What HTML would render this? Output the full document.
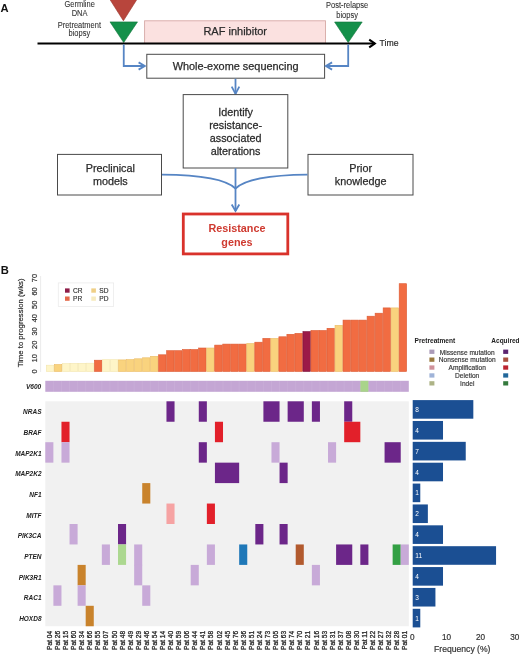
<!DOCTYPE html>
<html><head><meta charset="utf-8"><title>Figure</title>
<style>
html,body{margin:0;padding:0;background:#fff;}
body{width:520px;height:654px;overflow:hidden;}
svg{display:block;font-family:"Liberation Sans", sans-serif;will-change:transform;}
</style></head>
<body>
<svg width="520" height="654" viewBox="0 0 520 654">
<text x="0.60" y="11.90" font-size="11.2" text-anchor="start" font-weight="bold" font-style="normal" fill="#111" >A</text>
<polygon points="109.6,-1 137.2,-1 123.4,20.8" fill="#b8453c" stroke="#973229" stroke-width="0.6"/>
<polygon points="110,21.9 137.5,21.9 123.7,42.6" fill="#14904a" stroke="#0d7439" stroke-width="0.6"/>
<polygon points="334.6,22 362.2,22 348.2,42.6" fill="#14904a" stroke="#0d7439" stroke-width="0.6"/>
<rect x="144.6" y="20.8" width="180.9" height="22.6" fill="#fbe1e0" stroke="#d7a9a6" stroke-width="0.9"/>
<text x="235.20" y="35.00" font-size="11" text-anchor="middle" font-weight="normal" font-style="normal" fill="#2b2b2b" stroke="#2b2b2b" stroke-width="0.25" >RAF inhibitor</text>
<line x1="37.5" y1="43.5" x2="375" y2="43.5" stroke="#000" stroke-width="2"/>
<polyline points="369.2,39.6 374.8,43.5 369.2,47.4" fill="none" stroke="#000" stroke-width="2.1"/>
<text transform="translate(379.60,45.90) scale(1,1.05)" font-size="8.7" text-anchor="start" font-weight="normal" font-style="normal" fill="#2b2b2b" stroke="#2b2b2b" stroke-width="0.2" >Time</text>
<text transform="translate(79.60,6.60) scale(1,1.15)" font-size="7.5" text-anchor="middle" font-weight="normal" font-style="normal" fill="#333" stroke="#333" stroke-width="0.08" >Germline</text>
<text transform="translate(79.60,15.80) scale(1,1.15)" font-size="7.5" text-anchor="middle" font-weight="normal" font-style="normal" fill="#333" stroke="#333" stroke-width="0.08" >DNA</text>
<text transform="translate(79.30,27.70) scale(1,1.15)" font-size="7.5" text-anchor="middle" font-weight="normal" font-style="normal" fill="#333" stroke="#333" stroke-width="0.08" >Pretreatment</text>
<text transform="translate(79.30,36.00) scale(1,1.15)" font-size="7.5" text-anchor="middle" font-weight="normal" font-style="normal" fill="#333" stroke="#333" stroke-width="0.08" >biopsy</text>
<text transform="translate(347.10,7.80) scale(1,1.15)" font-size="7.5" text-anchor="middle" font-weight="normal" font-style="normal" fill="#333" stroke="#333" stroke-width="0.08" >Post-relapse</text>
<text transform="translate(347.10,17.90) scale(1,1.15)" font-size="7.5" text-anchor="middle" font-weight="normal" font-style="normal" fill="#333" stroke="#333" stroke-width="0.08" >biopsy</text>
<rect x="146.8" y="54.3" width="177.8" height="23.9" fill="#fff" stroke="#4a4a4a" stroke-width="1"/>
<text x="235.60" y="69.60" font-size="10.9" text-anchor="middle" font-weight="normal" font-style="normal" fill="#2b2b2b" stroke="#2b2b2b" stroke-width="0.25" >Whole-exome sequencing</text>
<polyline points="123.75,44.5 123.75,66 144.5,66" fill="none" stroke="#5685c4" stroke-width="1.8"/>
<polyline points="138.6,62.4 144.8,66 138.6,69.6" fill="none" stroke="#5685c4" stroke-width="1.8"/>
<polyline points="348.2,44.5 348.2,66 326,66" fill="none" stroke="#5685c4" stroke-width="1.8"/>
<polyline points="332.1,62.4 325.9,66 332.1,69.6" fill="none" stroke="#5685c4" stroke-width="1.8"/>
<line x1="235.5" y1="78.7" x2="235.5" y2="93.8" stroke="#5685c4" stroke-width="1.8"/>
<polyline points="231.7,86.6 235.5,93.8 239.3,86.6" fill="none" stroke="#5685c4" stroke-width="1.8"/>
<rect x="183.2" y="94.6" width="104.6" height="73.4" fill="#fff" stroke="#4a4a4a" stroke-width="1"/>
<text transform="translate(235.60,115.70) scale(1,1.05)" font-size="10.8" text-anchor="middle" font-weight="normal" font-style="normal" fill="#2b2b2b" stroke="#2b2b2b" stroke-width="0.25" >Identify</text>
<text transform="translate(235.60,128.70) scale(1,1.05)" font-size="10.8" text-anchor="middle" font-weight="normal" font-style="normal" fill="#2b2b2b" stroke="#2b2b2b" stroke-width="0.25" >resistance-</text>
<text transform="translate(235.60,141.70) scale(1,1.05)" font-size="10.8" text-anchor="middle" font-weight="normal" font-style="normal" fill="#2b2b2b" stroke="#2b2b2b" stroke-width="0.25" >associated</text>
<text transform="translate(235.60,154.70) scale(1,1.05)" font-size="10.8" text-anchor="middle" font-weight="normal" font-style="normal" fill="#2b2b2b" stroke="#2b2b2b" stroke-width="0.25" >alterations</text>
<rect x="57.5" y="154.4" width="104" height="40.6" fill="#fff" stroke="#4a4a4a" stroke-width="1"/>
<text x="110.30" y="172.30" font-size="10.8" text-anchor="middle" font-weight="normal" font-style="normal" fill="#2b2b2b" stroke="#2b2b2b" stroke-width="0.25" >Preclinical</text>
<text x="110.30" y="184.90" font-size="10.8" text-anchor="middle" font-weight="normal" font-style="normal" fill="#2b2b2b" stroke="#2b2b2b" stroke-width="0.25" >models</text>
<rect x="308" y="154.4" width="105" height="40.6" fill="#fff" stroke="#4a4a4a" stroke-width="1"/>
<text x="360.60" y="172.30" font-size="10.8" text-anchor="middle" font-weight="normal" font-style="normal" fill="#2b2b2b" stroke="#2b2b2b" stroke-width="0.25" >Prior</text>
<text x="360.60" y="184.90" font-size="10.8" text-anchor="middle" font-weight="normal" font-style="normal" fill="#2b2b2b" stroke="#2b2b2b" stroke-width="0.25" >knowledge</text>
<line x1="235.5" y1="168.2" x2="235.5" y2="211" stroke="#5685c4" stroke-width="1.8"/>
<path d="M162,174.6 C200,175 226,179 235.5,188.5" fill="none" stroke="#5685c4" stroke-width="1.8"/>
<path d="M307.5,174.6 C271,175 245,179 235.5,188.5" fill="none" stroke="#5685c4" stroke-width="1.8"/>
<polyline points="231.7,204.5 235.5,211 239.3,204.5" fill="none" stroke="#5685c4" stroke-width="1.8"/>
<rect x="183.3" y="214" width="104.5" height="39.9" fill="#fff" stroke="#d9322b" stroke-width="2.8"/>
<text x="236.90" y="231.90" font-size="10.8" text-anchor="middle" font-weight="bold" font-style="normal" fill="#cf3a30" >Resistance</text>
<text x="236.90" y="245.80" font-size="10.8" text-anchor="middle" font-weight="bold" font-style="normal" fill="#cf3a30" >genes</text>
<text x="0.80" y="273.80" font-size="11.2" text-anchor="start" font-weight="bold" font-style="normal" fill="#111" >B</text>
<line x1="40.6" y1="276" x2="40.6" y2="372" stroke="#e6e6e6" stroke-width="0.8"/>
<text transform="translate(22.6,322.9) rotate(-90)" font-size="7.75" text-anchor="middle" fill="#2b2b2b" stroke="#2b2b2b" stroke-width="0.2">Time to progression (wks)</text>
<text transform="translate(37.2,371.50) rotate(-90)" font-size="7.4" text-anchor="middle" fill="#333" stroke="#333" stroke-width="0.2">0</text>
<text transform="translate(37.2,358.16) rotate(-90)" font-size="7.4" text-anchor="middle" fill="#333" stroke="#333" stroke-width="0.2">10</text>
<text transform="translate(37.2,344.82) rotate(-90)" font-size="7.4" text-anchor="middle" fill="#333" stroke="#333" stroke-width="0.2">20</text>
<text transform="translate(37.2,331.48) rotate(-90)" font-size="7.4" text-anchor="middle" fill="#333" stroke="#333" stroke-width="0.2">30</text>
<text transform="translate(37.2,318.14) rotate(-90)" font-size="7.4" text-anchor="middle" fill="#333" stroke="#333" stroke-width="0.2">40</text>
<text transform="translate(37.2,304.80) rotate(-90)" font-size="7.4" text-anchor="middle" fill="#333" stroke="#333" stroke-width="0.2">50</text>
<text transform="translate(37.2,291.46) rotate(-90)" font-size="7.4" text-anchor="middle" fill="#333" stroke="#333" stroke-width="0.2">60</text>
<text transform="translate(37.2,278.12) rotate(-90)" font-size="7.4" text-anchor="middle" fill="#333" stroke="#333" stroke-width="0.2">70</text>
<rect x="46.30" y="365.20" width="7.42" height="6.30" fill="#fef5c8" stroke="#f3e6b0" stroke-width="0.6"/>
<rect x="54.32" y="364.50" width="7.42" height="7.00" fill="#f9d37e" stroke="#ecbd66" stroke-width="0.6"/>
<rect x="62.34" y="363.60" width="7.42" height="7.90" fill="#fef5c8" stroke="#f3e6b0" stroke-width="0.6"/>
<rect x="70.36" y="363.40" width="7.42" height="8.10" fill="#fef5c8" stroke="#f3e6b0" stroke-width="0.6"/>
<rect x="78.38" y="363.30" width="7.42" height="8.20" fill="#fef5c8" stroke="#f3e6b0" stroke-width="0.6"/>
<rect x="86.40" y="363.20" width="7.42" height="8.30" fill="#fef5c8" stroke="#f3e6b0" stroke-width="0.6"/>
<rect x="94.42" y="360.20" width="7.42" height="11.30" fill="#f16c42" stroke="#dc5a32" stroke-width="0.6"/>
<rect x="102.44" y="359.70" width="7.42" height="11.80" fill="#fef5c8" stroke="#f3e6b0" stroke-width="0.6"/>
<rect x="110.46" y="359.70" width="7.42" height="11.80" fill="#fef5c8" stroke="#f3e6b0" stroke-width="0.6"/>
<rect x="118.48" y="359.90" width="7.42" height="11.60" fill="#f9d37e" stroke="#ecbd66" stroke-width="0.6"/>
<rect x="126.50" y="359.60" width="7.42" height="11.90" fill="#f9d37e" stroke="#ecbd66" stroke-width="0.6"/>
<rect x="134.52" y="358.80" width="7.42" height="12.70" fill="#f9d37e" stroke="#ecbd66" stroke-width="0.6"/>
<rect x="142.54" y="357.80" width="7.42" height="13.70" fill="#f9d37e" stroke="#ecbd66" stroke-width="0.6"/>
<rect x="150.56" y="356.30" width="7.42" height="15.20" fill="#f9d37e" stroke="#ecbd66" stroke-width="0.6"/>
<rect x="158.58" y="354.80" width="7.42" height="16.70" fill="#f16c42" stroke="#dc5a32" stroke-width="0.6"/>
<rect x="166.60" y="350.70" width="7.42" height="20.80" fill="#f16c42" stroke="#dc5a32" stroke-width="0.6"/>
<rect x="174.62" y="350.70" width="7.42" height="20.80" fill="#f16c42" stroke="#dc5a32" stroke-width="0.6"/>
<rect x="182.64" y="349.50" width="7.42" height="22.00" fill="#f16c42" stroke="#dc5a32" stroke-width="0.6"/>
<rect x="190.66" y="349.50" width="7.42" height="22.00" fill="#f16c42" stroke="#dc5a32" stroke-width="0.6"/>
<rect x="198.68" y="348.00" width="7.42" height="23.50" fill="#f16c42" stroke="#dc5a32" stroke-width="0.6"/>
<rect x="206.70" y="348.00" width="7.42" height="23.50" fill="#f9d37e" stroke="#ecbd66" stroke-width="0.6"/>
<rect x="214.72" y="345.10" width="7.42" height="26.40" fill="#f16c42" stroke="#dc5a32" stroke-width="0.6"/>
<rect x="222.74" y="344.10" width="7.42" height="27.40" fill="#f16c42" stroke="#dc5a32" stroke-width="0.6"/>
<rect x="230.76" y="344.10" width="7.42" height="27.40" fill="#f16c42" stroke="#dc5a32" stroke-width="0.6"/>
<rect x="238.78" y="344.10" width="7.42" height="27.40" fill="#f16c42" stroke="#dc5a32" stroke-width="0.6"/>
<rect x="246.80" y="343.50" width="7.42" height="28.00" fill="#f9d37e" stroke="#ecbd66" stroke-width="0.6"/>
<rect x="254.82" y="342.20" width="7.42" height="29.30" fill="#f16c42" stroke="#dc5a32" stroke-width="0.6"/>
<rect x="262.84" y="338.40" width="7.42" height="33.10" fill="#f16c42" stroke="#dc5a32" stroke-width="0.6"/>
<rect x="270.86" y="338.40" width="7.42" height="33.10" fill="#f9d37e" stroke="#ecbd66" stroke-width="0.6"/>
<rect x="278.88" y="336.80" width="7.42" height="34.70" fill="#f16c42" stroke="#dc5a32" stroke-width="0.6"/>
<rect x="286.90" y="334.30" width="7.42" height="37.20" fill="#f16c42" stroke="#dc5a32" stroke-width="0.6"/>
<rect x="294.92" y="333.40" width="7.42" height="38.10" fill="#f16c42" stroke="#dc5a32" stroke-width="0.6"/>
<rect x="302.94" y="331.60" width="7.42" height="39.90" fill="#9b1a48" stroke="#7a1238" stroke-width="0.6"/>
<rect x="310.96" y="330.50" width="7.42" height="41.00" fill="#f16c42" stroke="#dc5a32" stroke-width="0.6"/>
<rect x="318.98" y="330.50" width="7.42" height="41.00" fill="#f16c42" stroke="#dc5a32" stroke-width="0.6"/>
<rect x="327.00" y="328.30" width="7.42" height="43.20" fill="#f16c42" stroke="#dc5a32" stroke-width="0.6"/>
<rect x="335.02" y="325.30" width="7.42" height="46.20" fill="#f9d37e" stroke="#ecbd66" stroke-width="0.6"/>
<rect x="343.04" y="320.10" width="7.42" height="51.40" fill="#f16c42" stroke="#dc5a32" stroke-width="0.6"/>
<rect x="351.06" y="320.10" width="7.42" height="51.40" fill="#f16c42" stroke="#dc5a32" stroke-width="0.6"/>
<rect x="359.08" y="320.10" width="7.42" height="51.40" fill="#f16c42" stroke="#dc5a32" stroke-width="0.6"/>
<rect x="367.10" y="316.20" width="7.42" height="55.30" fill="#f16c42" stroke="#dc5a32" stroke-width="0.6"/>
<rect x="375.12" y="313.20" width="7.42" height="58.30" fill="#f16c42" stroke="#dc5a32" stroke-width="0.6"/>
<rect x="383.14" y="307.90" width="7.42" height="63.60" fill="#f16c42" stroke="#dc5a32" stroke-width="0.6"/>
<rect x="391.16" y="307.90" width="7.42" height="63.60" fill="#f9d37e" stroke="#ecbd66" stroke-width="0.6"/>
<rect x="399.18" y="283.70" width="7.42" height="87.80" fill="#f16c42" stroke="#dc5a32" stroke-width="0.6"/>
<rect x="58.3" y="282.9" width="55.3" height="23.5" fill="#fff" stroke="#ebebeb" stroke-width="0.8"/>
<rect x="65" y="288.4" width="4.6" height="4.3" fill="#8e1d48"/>
<text x="73.00" y="293.00" font-size="6.6" text-anchor="start" font-weight="normal" font-style="normal" fill="#333" stroke="#333" stroke-width="0.15" >CR</text>
<rect x="65" y="296.5" width="4.6" height="4.3" fill="#e4694a"/>
<text x="73.00" y="301.10" font-size="6.6" text-anchor="start" font-weight="normal" font-style="normal" fill="#333" stroke="#333" stroke-width="0.15" >PR</text>
<rect x="91.3" y="288.4" width="4.6" height="4.3" fill="#efcf86"/>
<text x="99.30" y="293.00" font-size="6.6" text-anchor="start" font-weight="normal" font-style="normal" fill="#333" stroke="#333" stroke-width="0.15" >SD</text>
<rect x="91.3" y="296.5" width="4.6" height="4.3" fill="#f7ebc0"/>
<text x="99.30" y="301.10" font-size="6.6" text-anchor="start" font-weight="normal" font-style="normal" fill="#333" stroke="#333" stroke-width="0.15" >PD</text>
<rect x="45.3" y="380.8" width="363.50" height="11" fill="#c4a6d4"/>
<rect x="360.33" y="380.8" width="8.08" height="11" fill="#a9d48a"/>
<line x1="53.38" y1="380.8" x2="53.38" y2="391.8" stroke="#ffffff" stroke-opacity="0.15" stroke-width="0.5"/>
<line x1="61.46" y1="380.8" x2="61.46" y2="391.8" stroke="#ffffff" stroke-opacity="0.15" stroke-width="0.5"/>
<line x1="69.53" y1="380.8" x2="69.53" y2="391.8" stroke="#ffffff" stroke-opacity="0.15" stroke-width="0.5"/>
<line x1="77.61" y1="380.8" x2="77.61" y2="391.8" stroke="#ffffff" stroke-opacity="0.15" stroke-width="0.5"/>
<line x1="85.69" y1="380.8" x2="85.69" y2="391.8" stroke="#ffffff" stroke-opacity="0.15" stroke-width="0.5"/>
<line x1="93.77" y1="380.8" x2="93.77" y2="391.8" stroke="#ffffff" stroke-opacity="0.15" stroke-width="0.5"/>
<line x1="101.84" y1="380.8" x2="101.84" y2="391.8" stroke="#ffffff" stroke-opacity="0.15" stroke-width="0.5"/>
<line x1="109.92" y1="380.8" x2="109.92" y2="391.8" stroke="#ffffff" stroke-opacity="0.15" stroke-width="0.5"/>
<line x1="118.00" y1="380.8" x2="118.00" y2="391.8" stroke="#ffffff" stroke-opacity="0.15" stroke-width="0.5"/>
<line x1="126.08" y1="380.8" x2="126.08" y2="391.8" stroke="#ffffff" stroke-opacity="0.15" stroke-width="0.5"/>
<line x1="134.16" y1="380.8" x2="134.16" y2="391.8" stroke="#ffffff" stroke-opacity="0.15" stroke-width="0.5"/>
<line x1="142.23" y1="380.8" x2="142.23" y2="391.8" stroke="#ffffff" stroke-opacity="0.15" stroke-width="0.5"/>
<line x1="150.31" y1="380.8" x2="150.31" y2="391.8" stroke="#ffffff" stroke-opacity="0.15" stroke-width="0.5"/>
<line x1="158.39" y1="380.8" x2="158.39" y2="391.8" stroke="#ffffff" stroke-opacity="0.15" stroke-width="0.5"/>
<line x1="166.47" y1="380.8" x2="166.47" y2="391.8" stroke="#ffffff" stroke-opacity="0.15" stroke-width="0.5"/>
<line x1="174.54" y1="380.8" x2="174.54" y2="391.8" stroke="#ffffff" stroke-opacity="0.15" stroke-width="0.5"/>
<line x1="182.62" y1="380.8" x2="182.62" y2="391.8" stroke="#ffffff" stroke-opacity="0.15" stroke-width="0.5"/>
<line x1="190.70" y1="380.8" x2="190.70" y2="391.8" stroke="#ffffff" stroke-opacity="0.15" stroke-width="0.5"/>
<line x1="198.78" y1="380.8" x2="198.78" y2="391.8" stroke="#ffffff" stroke-opacity="0.15" stroke-width="0.5"/>
<line x1="206.86" y1="380.8" x2="206.86" y2="391.8" stroke="#ffffff" stroke-opacity="0.15" stroke-width="0.5"/>
<line x1="214.93" y1="380.8" x2="214.93" y2="391.8" stroke="#ffffff" stroke-opacity="0.15" stroke-width="0.5"/>
<line x1="223.01" y1="380.8" x2="223.01" y2="391.8" stroke="#ffffff" stroke-opacity="0.15" stroke-width="0.5"/>
<line x1="231.09" y1="380.8" x2="231.09" y2="391.8" stroke="#ffffff" stroke-opacity="0.15" stroke-width="0.5"/>
<line x1="239.17" y1="380.8" x2="239.17" y2="391.8" stroke="#ffffff" stroke-opacity="0.15" stroke-width="0.5"/>
<line x1="247.24" y1="380.8" x2="247.24" y2="391.8" stroke="#ffffff" stroke-opacity="0.15" stroke-width="0.5"/>
<line x1="255.32" y1="380.8" x2="255.32" y2="391.8" stroke="#ffffff" stroke-opacity="0.15" stroke-width="0.5"/>
<line x1="263.40" y1="380.8" x2="263.40" y2="391.8" stroke="#ffffff" stroke-opacity="0.15" stroke-width="0.5"/>
<line x1="271.48" y1="380.8" x2="271.48" y2="391.8" stroke="#ffffff" stroke-opacity="0.15" stroke-width="0.5"/>
<line x1="279.56" y1="380.8" x2="279.56" y2="391.8" stroke="#ffffff" stroke-opacity="0.15" stroke-width="0.5"/>
<line x1="287.63" y1="380.8" x2="287.63" y2="391.8" stroke="#ffffff" stroke-opacity="0.15" stroke-width="0.5"/>
<line x1="295.71" y1="380.8" x2="295.71" y2="391.8" stroke="#ffffff" stroke-opacity="0.15" stroke-width="0.5"/>
<line x1="303.79" y1="380.8" x2="303.79" y2="391.8" stroke="#ffffff" stroke-opacity="0.15" stroke-width="0.5"/>
<line x1="311.87" y1="380.8" x2="311.87" y2="391.8" stroke="#ffffff" stroke-opacity="0.15" stroke-width="0.5"/>
<line x1="319.94" y1="380.8" x2="319.94" y2="391.8" stroke="#ffffff" stroke-opacity="0.15" stroke-width="0.5"/>
<line x1="328.02" y1="380.8" x2="328.02" y2="391.8" stroke="#ffffff" stroke-opacity="0.15" stroke-width="0.5"/>
<line x1="336.10" y1="380.8" x2="336.10" y2="391.8" stroke="#ffffff" stroke-opacity="0.15" stroke-width="0.5"/>
<line x1="344.18" y1="380.8" x2="344.18" y2="391.8" stroke="#ffffff" stroke-opacity="0.15" stroke-width="0.5"/>
<line x1="352.26" y1="380.8" x2="352.26" y2="391.8" stroke="#ffffff" stroke-opacity="0.15" stroke-width="0.5"/>
<line x1="360.33" y1="380.8" x2="360.33" y2="391.8" stroke="#ffffff" stroke-opacity="0.15" stroke-width="0.5"/>
<line x1="368.41" y1="380.8" x2="368.41" y2="391.8" stroke="#ffffff" stroke-opacity="0.15" stroke-width="0.5"/>
<line x1="376.49" y1="380.8" x2="376.49" y2="391.8" stroke="#ffffff" stroke-opacity="0.15" stroke-width="0.5"/>
<line x1="384.57" y1="380.8" x2="384.57" y2="391.8" stroke="#ffffff" stroke-opacity="0.15" stroke-width="0.5"/>
<line x1="392.64" y1="380.8" x2="392.64" y2="391.8" stroke="#ffffff" stroke-opacity="0.15" stroke-width="0.5"/>
<line x1="400.72" y1="380.8" x2="400.72" y2="391.8" stroke="#ffffff" stroke-opacity="0.15" stroke-width="0.5"/>
<text transform="translate(41.30,389.20) scale(1,1.12)" font-size="6.6" text-anchor="end" font-weight="bold" font-style="italic" fill="#222" >V600</text>
<rect x="45.3" y="401.3" width="363.50" height="224.95" fill="#f1f1f1"/>
<rect x="166.47" y="401.30" width="8.08" height="20.45" fill="#6c2689"/>
<rect x="198.78" y="401.30" width="8.08" height="20.45" fill="#6c2689"/>
<rect x="263.40" y="401.30" width="16.16" height="20.45" fill="#6c2689"/>
<rect x="287.63" y="401.30" width="16.16" height="20.45" fill="#6c2689"/>
<rect x="311.87" y="401.30" width="8.08" height="20.45" fill="#6c2689"/>
<rect x="344.18" y="401.30" width="8.08" height="20.45" fill="#6c2689"/>
<rect x="61.46" y="421.75" width="8.08" height="20.45" fill="#e2202a"/>
<rect x="214.93" y="421.75" width="8.08" height="20.45" fill="#e2202a"/>
<rect x="344.18" y="421.75" width="16.16" height="20.45" fill="#e2202a"/>
<rect x="45.30" y="442.20" width="8.08" height="20.45" fill="#c8aad8"/>
<rect x="61.46" y="442.20" width="8.08" height="20.45" fill="#c8aad8"/>
<rect x="198.78" y="442.20" width="8.08" height="20.45" fill="#6c2689"/>
<rect x="271.48" y="442.20" width="8.08" height="20.45" fill="#c8aad8"/>
<rect x="328.02" y="442.20" width="8.08" height="20.45" fill="#c8aad8"/>
<rect x="384.57" y="442.20" width="16.16" height="20.45" fill="#6c2689"/>
<rect x="214.93" y="462.65" width="24.23" height="20.45" fill="#6c2689"/>
<rect x="279.56" y="462.65" width="8.08" height="20.45" fill="#6c2689"/>
<rect x="142.23" y="483.10" width="8.08" height="20.45" fill="#c9832c"/>
<rect x="166.47" y="503.55" width="8.08" height="20.45" fill="#f6a3a3"/>
<rect x="206.86" y="503.55" width="8.08" height="20.45" fill="#e2202a"/>
<rect x="69.53" y="524.00" width="8.08" height="20.45" fill="#c8aad8"/>
<rect x="118.00" y="524.00" width="8.08" height="20.45" fill="#6c2689"/>
<rect x="255.32" y="524.00" width="8.08" height="20.45" fill="#6c2689"/>
<rect x="279.56" y="524.00" width="8.08" height="20.45" fill="#6c2689"/>
<rect x="101.84" y="544.45" width="8.08" height="20.45" fill="#c8aad8"/>
<rect x="118.00" y="544.45" width="8.08" height="20.45" fill="#acd890"/>
<rect x="134.16" y="544.45" width="8.08" height="20.85" fill="#c8aad8"/>
<rect x="206.86" y="544.45" width="8.08" height="20.45" fill="#c8aad8"/>
<rect x="239.17" y="544.45" width="8.08" height="20.45" fill="#1f78b8"/>
<rect x="295.71" y="544.45" width="8.08" height="20.45" fill="#b25a2e"/>
<rect x="336.10" y="544.45" width="16.16" height="20.45" fill="#6c2689"/>
<rect x="360.33" y="544.45" width="8.08" height="20.45" fill="#6c2689"/>
<rect x="392.64" y="544.45" width="8.08" height="20.45" fill="#33a044"/>
<rect x="400.72" y="544.45" width="8.08" height="20.45" fill="#c8aad8"/>
<rect x="77.61" y="564.90" width="8.08" height="20.45" fill="#c9832c"/>
<rect x="134.16" y="564.90" width="8.08" height="20.45" fill="#c8aad8"/>
<rect x="190.70" y="564.90" width="8.08" height="20.45" fill="#c8aad8"/>
<rect x="311.87" y="564.90" width="8.08" height="20.45" fill="#c8aad8"/>
<rect x="53.38" y="585.35" width="8.08" height="20.45" fill="#c8aad8"/>
<rect x="77.61" y="585.35" width="8.08" height="20.45" fill="#c8aad8"/>
<rect x="142.23" y="585.35" width="8.08" height="20.45" fill="#c8aad8"/>
<rect x="85.69" y="605.80" width="8.08" height="20.45" fill="#c9832c"/>
<text transform="translate(41.50,414.40) scale(1,1.12)" font-size="6.5" text-anchor="end" font-weight="bold" font-style="italic" fill="#222" >NRAS</text>
<text transform="translate(41.50,435.06) scale(1,1.12)" font-size="6.5" text-anchor="end" font-weight="bold" font-style="italic" fill="#222" >BRAF</text>
<text transform="translate(41.50,455.72) scale(1,1.12)" font-size="6.5" text-anchor="end" font-weight="bold" font-style="italic" fill="#222" >MAP2K1</text>
<text transform="translate(41.50,476.38) scale(1,1.12)" font-size="6.5" text-anchor="end" font-weight="bold" font-style="italic" fill="#222" >MAP2K2</text>
<text transform="translate(41.50,497.04) scale(1,1.12)" font-size="6.5" text-anchor="end" font-weight="bold" font-style="italic" fill="#222" >NF1</text>
<text transform="translate(41.50,517.70) scale(1,1.12)" font-size="6.5" text-anchor="end" font-weight="bold" font-style="italic" fill="#222" >MITF</text>
<text transform="translate(41.50,538.36) scale(1,1.12)" font-size="6.5" text-anchor="end" font-weight="bold" font-style="italic" fill="#222" >PIK3CA</text>
<text transform="translate(41.50,559.02) scale(1,1.12)" font-size="6.5" text-anchor="end" font-weight="bold" font-style="italic" fill="#222" >PTEN</text>
<text transform="translate(41.50,579.68) scale(1,1.12)" font-size="6.5" text-anchor="end" font-weight="bold" font-style="italic" fill="#222" >PIK3R1</text>
<text transform="translate(41.50,600.34) scale(1,1.12)" font-size="6.5" text-anchor="end" font-weight="bold" font-style="italic" fill="#222" >RAC1</text>
<text transform="translate(41.50,621.00) scale(1,1.12)" font-size="6.5" text-anchor="end" font-weight="bold" font-style="italic" fill="#222" >HOXD8</text>
<text transform="translate(51.94,630.8) rotate(-90)" font-size="6.6" text-anchor="end" fill="#2a2a2a" stroke="#2a2a2a" stroke-width="0.3">Pat 04</text>
<text transform="translate(60.02,630.8) rotate(-90)" font-size="6.6" text-anchor="end" fill="#2a2a2a" stroke="#2a2a2a" stroke-width="0.3">Pat 26</text>
<text transform="translate(68.09,630.8) rotate(-90)" font-size="6.6" text-anchor="end" fill="#2a2a2a" stroke="#2a2a2a" stroke-width="0.3">Pat 15</text>
<text transform="translate(76.17,630.8) rotate(-90)" font-size="6.6" text-anchor="end" fill="#2a2a2a" stroke="#2a2a2a" stroke-width="0.3">Pat 60</text>
<text transform="translate(84.25,630.8) rotate(-90)" font-size="6.6" text-anchor="end" fill="#2a2a2a" stroke="#2a2a2a" stroke-width="0.3">Pat 34</text>
<text transform="translate(92.33,630.8) rotate(-90)" font-size="6.6" text-anchor="end" fill="#2a2a2a" stroke="#2a2a2a" stroke-width="0.3">Pat 66</text>
<text transform="translate(100.41,630.8) rotate(-90)" font-size="6.6" text-anchor="end" fill="#2a2a2a" stroke="#2a2a2a" stroke-width="0.3">Pat 55</text>
<text transform="translate(108.48,630.8) rotate(-90)" font-size="6.6" text-anchor="end" fill="#2a2a2a" stroke="#2a2a2a" stroke-width="0.3">Pat 07</text>
<text transform="translate(116.56,630.8) rotate(-90)" font-size="6.6" text-anchor="end" fill="#2a2a2a" stroke="#2a2a2a" stroke-width="0.3">Pat 50</text>
<text transform="translate(124.64,630.8) rotate(-90)" font-size="6.6" text-anchor="end" fill="#2a2a2a" stroke="#2a2a2a" stroke-width="0.3">Pat 48</text>
<text transform="translate(132.72,630.8) rotate(-90)" font-size="6.6" text-anchor="end" fill="#2a2a2a" stroke="#2a2a2a" stroke-width="0.3">Pat 49</text>
<text transform="translate(140.79,630.8) rotate(-90)" font-size="6.6" text-anchor="end" fill="#2a2a2a" stroke="#2a2a2a" stroke-width="0.3">Pat 29</text>
<text transform="translate(148.87,630.8) rotate(-90)" font-size="6.6" text-anchor="end" fill="#2a2a2a" stroke="#2a2a2a" stroke-width="0.3">Pat 46</text>
<text transform="translate(156.95,630.8) rotate(-90)" font-size="6.6" text-anchor="end" fill="#2a2a2a" stroke="#2a2a2a" stroke-width="0.3">Pat 54</text>
<text transform="translate(165.03,630.8) rotate(-90)" font-size="6.6" text-anchor="end" fill="#2a2a2a" stroke="#2a2a2a" stroke-width="0.3">Pat 14</text>
<text transform="translate(173.11,630.8) rotate(-90)" font-size="6.6" text-anchor="end" fill="#2a2a2a" stroke="#2a2a2a" stroke-width="0.3">Pat 40</text>
<text transform="translate(181.18,630.8) rotate(-90)" font-size="6.6" text-anchor="end" fill="#2a2a2a" stroke="#2a2a2a" stroke-width="0.3">Pat 59</text>
<text transform="translate(189.26,630.8) rotate(-90)" font-size="6.6" text-anchor="end" fill="#2a2a2a" stroke="#2a2a2a" stroke-width="0.3">Pat 06</text>
<text transform="translate(197.34,630.8) rotate(-90)" font-size="6.6" text-anchor="end" fill="#2a2a2a" stroke="#2a2a2a" stroke-width="0.3">Pat 44</text>
<text transform="translate(205.42,630.8) rotate(-90)" font-size="6.6" text-anchor="end" fill="#2a2a2a" stroke="#2a2a2a" stroke-width="0.3">Pat 41</text>
<text transform="translate(213.49,630.8) rotate(-90)" font-size="6.6" text-anchor="end" fill="#2a2a2a" stroke="#2a2a2a" stroke-width="0.3">Pat 58</text>
<text transform="translate(221.57,630.8) rotate(-90)" font-size="6.6" text-anchor="end" fill="#2a2a2a" stroke="#2a2a2a" stroke-width="0.3">Pat 02</text>
<text transform="translate(229.65,630.8) rotate(-90)" font-size="6.6" text-anchor="end" fill="#2a2a2a" stroke="#2a2a2a" stroke-width="0.3">Pat 45</text>
<text transform="translate(237.73,630.8) rotate(-90)" font-size="6.6" text-anchor="end" fill="#2a2a2a" stroke="#2a2a2a" stroke-width="0.3">Pat 76</text>
<text transform="translate(245.81,630.8) rotate(-90)" font-size="6.6" text-anchor="end" fill="#2a2a2a" stroke="#2a2a2a" stroke-width="0.3">Pat 36</text>
<text transform="translate(253.88,630.8) rotate(-90)" font-size="6.6" text-anchor="end" fill="#2a2a2a" stroke="#2a2a2a" stroke-width="0.3">Pat 51</text>
<text transform="translate(261.96,630.8) rotate(-90)" font-size="6.6" text-anchor="end" fill="#2a2a2a" stroke="#2a2a2a" stroke-width="0.3">Pat 24</text>
<text transform="translate(270.04,630.8) rotate(-90)" font-size="6.6" text-anchor="end" fill="#2a2a2a" stroke="#2a2a2a" stroke-width="0.3">Pat 73</text>
<text transform="translate(278.12,630.8) rotate(-90)" font-size="6.6" text-anchor="end" fill="#2a2a2a" stroke="#2a2a2a" stroke-width="0.3">Pat 05</text>
<text transform="translate(286.19,630.8) rotate(-90)" font-size="6.6" text-anchor="end" fill="#2a2a2a" stroke="#2a2a2a" stroke-width="0.3">Pat 63</text>
<text transform="translate(294.27,630.8) rotate(-90)" font-size="6.6" text-anchor="end" fill="#2a2a2a" stroke="#2a2a2a" stroke-width="0.3">Pat 74</text>
<text transform="translate(302.35,630.8) rotate(-90)" font-size="6.6" text-anchor="end" fill="#2a2a2a" stroke="#2a2a2a" stroke-width="0.3">Pat 70</text>
<text transform="translate(310.43,630.8) rotate(-90)" font-size="6.6" text-anchor="end" fill="#2a2a2a" stroke="#2a2a2a" stroke-width="0.3">Pat 21</text>
<text transform="translate(318.51,630.8) rotate(-90)" font-size="6.6" text-anchor="end" fill="#2a2a2a" stroke="#2a2a2a" stroke-width="0.3">Pat 16</text>
<text transform="translate(326.58,630.8) rotate(-90)" font-size="6.6" text-anchor="end" fill="#2a2a2a" stroke="#2a2a2a" stroke-width="0.3">Pat 53</text>
<text transform="translate(334.66,630.8) rotate(-90)" font-size="6.6" text-anchor="end" fill="#2a2a2a" stroke="#2a2a2a" stroke-width="0.3">Pat 31</text>
<text transform="translate(342.74,630.8) rotate(-90)" font-size="6.6" text-anchor="end" fill="#2a2a2a" stroke="#2a2a2a" stroke-width="0.3">Pat 37</text>
<text transform="translate(350.82,630.8) rotate(-90)" font-size="6.6" text-anchor="end" fill="#2a2a2a" stroke="#2a2a2a" stroke-width="0.3">Pat 08</text>
<text transform="translate(358.89,630.8) rotate(-90)" font-size="6.6" text-anchor="end" fill="#2a2a2a" stroke="#2a2a2a" stroke-width="0.3">Pat 30</text>
<text transform="translate(366.97,630.8) rotate(-90)" font-size="6.6" text-anchor="end" fill="#2a2a2a" stroke="#2a2a2a" stroke-width="0.3">Pat 11</text>
<text transform="translate(375.05,630.8) rotate(-90)" font-size="6.6" text-anchor="end" fill="#2a2a2a" stroke="#2a2a2a" stroke-width="0.3">Pat 22</text>
<text transform="translate(383.13,630.8) rotate(-90)" font-size="6.6" text-anchor="end" fill="#2a2a2a" stroke="#2a2a2a" stroke-width="0.3">Pat 27</text>
<text transform="translate(391.21,630.8) rotate(-90)" font-size="6.6" text-anchor="end" fill="#2a2a2a" stroke="#2a2a2a" stroke-width="0.3">Pat 32</text>
<text transform="translate(399.28,630.8) rotate(-90)" font-size="6.6" text-anchor="end" fill="#2a2a2a" stroke="#2a2a2a" stroke-width="0.3">Pat 28</text>
<text transform="translate(407.36,630.8) rotate(-90)" font-size="6.6" text-anchor="end" fill="#2a2a2a" stroke="#2a2a2a" stroke-width="0.3">Pat 01</text>
<rect x="412.7" y="400.10" width="60.62" height="18.6" fill="#1b4f93"/>
<text x="415.30" y="411.90" font-size="6.5" text-anchor="start" font-weight="normal" font-style="normal" fill="#fff" >8</text>
<rect x="412.7" y="420.97" width="30.31" height="18.6" fill="#1b4f93"/>
<text x="415.30" y="432.77" font-size="6.5" text-anchor="start" font-weight="normal" font-style="normal" fill="#fff" >4</text>
<rect x="412.7" y="441.84" width="53.04" height="18.6" fill="#1b4f93"/>
<text x="415.30" y="453.64" font-size="6.5" text-anchor="start" font-weight="normal" font-style="normal" fill="#fff" >7</text>
<rect x="412.7" y="462.71" width="30.31" height="18.6" fill="#1b4f93"/>
<text x="415.30" y="474.51" font-size="6.5" text-anchor="start" font-weight="normal" font-style="normal" fill="#fff" >4</text>
<rect x="412.7" y="483.58" width="7.58" height="18.6" fill="#1b4f93"/>
<text x="415.30" y="495.38" font-size="6.5" text-anchor="start" font-weight="normal" font-style="normal" fill="#fff" >1</text>
<rect x="412.7" y="504.45" width="15.16" height="18.6" fill="#1b4f93"/>
<text x="415.30" y="516.25" font-size="6.5" text-anchor="start" font-weight="normal" font-style="normal" fill="#fff" >2</text>
<rect x="412.7" y="525.32" width="30.31" height="18.6" fill="#1b4f93"/>
<text x="415.30" y="537.12" font-size="6.5" text-anchor="start" font-weight="normal" font-style="normal" fill="#fff" >4</text>
<rect x="412.7" y="546.19" width="83.36" height="18.6" fill="#1b4f93"/>
<text x="415.30" y="557.99" font-size="6.5" text-anchor="start" font-weight="normal" font-style="normal" fill="#fff" >11</text>
<rect x="412.7" y="567.06" width="30.31" height="18.6" fill="#1b4f93"/>
<text x="415.30" y="578.86" font-size="6.5" text-anchor="start" font-weight="normal" font-style="normal" fill="#fff" >4</text>
<rect x="412.7" y="587.93" width="22.73" height="18.6" fill="#1b4f93"/>
<text x="415.30" y="599.73" font-size="6.5" text-anchor="start" font-weight="normal" font-style="normal" fill="#fff" >3</text>
<rect x="412.7" y="608.80" width="7.58" height="18.6" fill="#1b4f93"/>
<text x="415.30" y="620.60" font-size="6.5" text-anchor="start" font-weight="normal" font-style="normal" fill="#fff" >1</text>
<text x="412.40" y="639.60" font-size="8.2" text-anchor="middle" font-weight="normal" font-style="normal" fill="#333" stroke="#333" stroke-width="0.2" >0</text>
<text x="446.50" y="639.60" font-size="8.2" text-anchor="middle" font-weight="normal" font-style="normal" fill="#333" stroke="#333" stroke-width="0.2" >10</text>
<text x="480.60" y="639.60" font-size="8.2" text-anchor="middle" font-weight="normal" font-style="normal" fill="#333" stroke="#333" stroke-width="0.2" >20</text>
<text x="514.70" y="639.60" font-size="8.2" text-anchor="middle" font-weight="normal" font-style="normal" fill="#333" stroke="#333" stroke-width="0.2" >30</text>
<text x="462.30" y="652.00" font-size="8.6" text-anchor="middle" font-weight="normal" font-style="normal" fill="#333" stroke="#333" stroke-width="0.2" >Frequency (%)</text>
<text transform="translate(414.60,342.90) scale(1,1.1)" font-size="6.6" text-anchor="start" font-weight="bold" font-style="normal" fill="#222" >Pretreatment</text>
<text transform="translate(519.50,342.90) scale(1,1.1)" font-size="6.5" text-anchor="end" font-weight="bold" font-style="normal" fill="#222" >Acquired</text>
<rect x="429.4" y="349.60" width="5" height="4.3" fill="#ab9bb8"/>
<rect x="503.2" y="349.60" width="5" height="4.3" fill="#5c2470"/>
<text transform="translate(467.20,354.50) scale(1,1.1)" font-size="6.6" text-anchor="middle" font-weight="normal" font-style="normal" fill="#333" stroke="#333" stroke-width="0.15" >Missense mutation</text>
<rect x="429.4" y="357.50" width="5" height="4.3" fill="#9a7a40"/>
<rect x="503.2" y="357.50" width="5" height="4.3" fill="#a9503f"/>
<text transform="translate(467.20,362.40) scale(1,1.1)" font-size="6.6" text-anchor="middle" font-weight="normal" font-style="normal" fill="#333" stroke="#333" stroke-width="0.15" >Nonsense mutation</text>
<rect x="429.4" y="365.40" width="5" height="4.3" fill="#cf919a"/>
<rect x="503.2" y="365.40" width="5" height="4.3" fill="#bc2430"/>
<text transform="translate(467.20,370.30) scale(1,1.1)" font-size="6.6" text-anchor="middle" font-weight="normal" font-style="normal" fill="#333" stroke="#333" stroke-width="0.15" >Amplification</text>
<rect x="429.4" y="373.30" width="5" height="4.3" fill="#9fb3d8"/>
<rect x="503.2" y="373.30" width="5" height="4.3" fill="#21679a"/>
<text transform="translate(467.20,378.20) scale(1,1.1)" font-size="6.6" text-anchor="middle" font-weight="normal" font-style="normal" fill="#333" stroke="#333" stroke-width="0.15" >Deletion</text>
<rect x="429.4" y="381.20" width="5" height="4.3" fill="#adb386"/>
<rect x="503.2" y="381.20" width="5" height="4.3" fill="#357a3e"/>
<text transform="translate(467.20,386.10) scale(1,1.1)" font-size="6.6" text-anchor="middle" font-weight="normal" font-style="normal" fill="#333" stroke="#333" stroke-width="0.15" >Indel</text>
</svg>
</body></html>
